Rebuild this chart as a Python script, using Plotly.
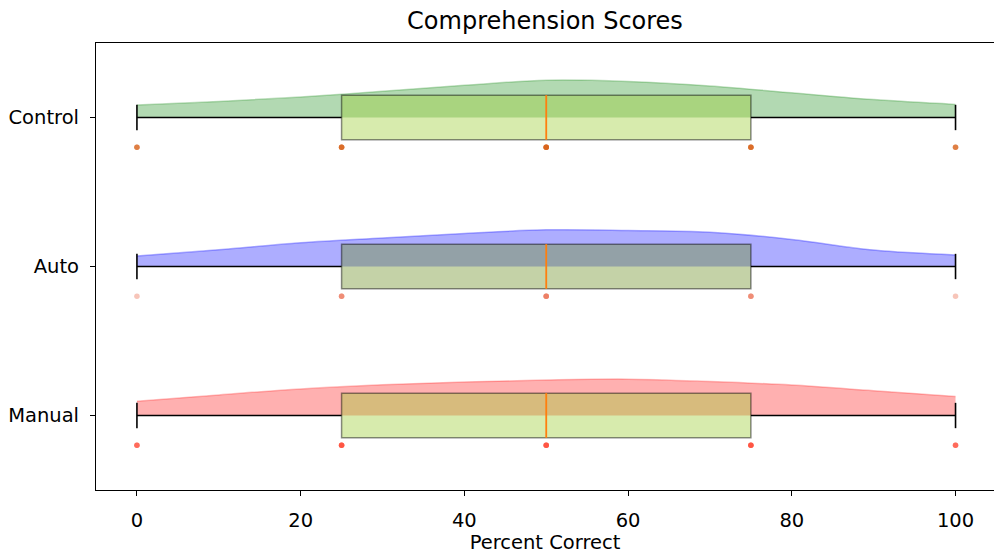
import numpy as np
import plotly.graph_objects as go

# ---------------- data ----------------
groups = ["Manual", "Auto", "Control"]          # bottom -> top
scores = {
    "Control": [0, 0, 25, 25, 25, 50, 50, 50, 50, 75, 75, 75, 100, 100],
    "Auto":    [0, 25, 25, 25, 50, 50, 50, 50, 75, 75, 75, 100],
    "Manual":  [0, 0, 25, 25, 25, 50, 50, 50, 75, 75, 75, 100, 100],
}
kde_x = [0, 10, 20, 30, 40, 50, 60, 70, 80, 90, 100]
kde_density = {
    "Control": [0.0042, 0.0054, 0.0069, 0.0088, 0.0108, 0.0125, 0.0121, 0.0106, 0.0083, 0.0060, 0.0044],
    "Auto":    [0.0035, 0.0056, 0.0080, 0.0096, 0.0111, 0.0123, 0.0121, 0.0115, 0.0091, 0.0055, 0.0039],
    "Manual":  [0.0048, 0.0069, 0.0089, 0.0103, 0.0112, 0.0119, 0.0122, 0.0114, 0.0102, 0.0083, 0.0064],
}
x_ticks = [0, 20, 40, 60, 80, 100]

# ---------------- styles ----------------
violin_fill = {"Control": "rgba(0,128,0,0.30)", "Auto": "rgba(0,0,255,0.32)", "Manual": "rgba(255,0,0,0.31)"}
violin_line = {"Control": "rgba(0,128,0,0.25)", "Auto": "rgba(0,0,255,0.30)", "Manual": "rgba(255,0,0,0.25)"}
box_fill = {"Control": "rgba(154,205,50,0.40)", "Auto": "rgba(107,142,35,0.40)", "Manual": "rgba(154,205,50,0.40)"}
dot_color = {"Control": "rgb(215,95,20)", "Auto": "rgb(235,110,80)", "Manual": "rgb(255,70,50)"}
dot_opacity = {"Control": 0.55, "Auto": 0.40, "Manual": 0.55}
violin_scale = 20.0
box_half = 0.15
cap_half = 0.085
dot_offset = 0.2
FONT = "DejaVu Sans"

fig = go.Figure()
shapes = []

for i, g in enumerate(groups):
    c = i + 1
    s = np.array(scores[g], dtype=float)
    q1, med, q3 = np.percentile(s, [25, 50, 75])
    iqr = q3 - q1
    lo = s[s >= q1 - 1.5 * iqr].min()
    hi = s[s <= q3 + 1.5 * iqr].max()

    # half violin
    fig.add_trace(go.Scatter(x=[kde_x[0], kde_x[-1]], y=[c, c], mode="lines",
                             line=dict(width=0), hoverinfo="skip", showlegend=False))
    fig.add_trace(go.Scatter(x=kde_x, y=[c + violin_scale * d for d in kde_density[g]],
                             mode="lines", line=dict(color=violin_line[g], width=1.5, shape="spline"),
                             fill="tonexty", fillcolor=violin_fill[g], showlegend=False))
    # rain dots
    fig.add_trace(go.Scatter(x=s, y=[c - dot_offset] * len(s), mode="markers",
                             marker=dict(size=5.5, color=dot_color[g], opacity=dot_opacity[g], line=dict(width=0)),
                             showlegend=False))

    # whiskers
    shapes.append(dict(type="line", xref="x", yref="y", x0=lo, x1=q1, y0=c, y1=c,
                       line=dict(color="black", width=1.6)))
    shapes.append(dict(type="line", xref="x", yref="y", x0=q3, x1=hi, y0=c, y1=c,
                       line=dict(color="black", width=1.6)))
    for v in (lo, hi):
        shapes.append(dict(type="line", xref="x", yref="y", x0=v, x1=v, y0=c - cap_half, y1=c + cap_half,
                           line=dict(color="black", width=1.6)))
    # box
    shapes.append(dict(type="rect", xref="x", yref="y", x0=q1, x1=q3, y0=c - box_half, y1=c + box_half,
                       fillcolor=box_fill[g], line=dict(color="rgba(0,0,0,0.45)", width=1.5)))
    # median
    shapes.append(dict(type="line", xref="x", yref="y", x0=med, x1=med, y0=c - box_half, y1=c + box_half,
                       line=dict(color="#ff7f0e", width=1.8)))

W, H = 994, 554
fig.update_layout(
    width=W, height=H,
    margin=dict(l=96, r=0, t=43, b=64),
    plot_bgcolor="white", paper_bgcolor="white",
    showlegend=False,
    font=dict(family=FONT, color="black", size=19.5),
    shapes=shapes,
    title=dict(text="Comprehension Scores", x=0.5, xref="paper", xanchor="center",
               y=1 - 21 / H, yref="container", yanchor="middle",
               font=dict(family=FONT, size=24, color="black")),
)
fig.update_xaxes(range=[-5, 104.7], tickvals=x_ticks, ticktext=[str(v) for v in x_ticks],
                 ticks="outside", ticklen=5, tickwidth=1.2, tickcolor="black",
                 showline=True, linecolor="black", linewidth=1.2, mirror=True,
                 showgrid=False, zeroline=False, tickfont=dict(size=19.5),
                 ticklabelstandoff=7,
                 title=dict(text="Percent Correct", font=dict(size=19.5), standoff=4))
fig.update_yaxes(range=[0.5, 3.5], tickvals=[1, 2, 3], ticktext=groups,
                 ticks="outside", ticklen=5, tickwidth=1.2, tickcolor="black",
                 showline=True, linecolor="black", linewidth=1.2, mirror=False,
                 showgrid=False, zeroline=False, tickfont=dict(size=19.5),
                 ticklabelstandoff=7)

fig.write_html("out.html",
               config={"displayModeBar": False},
               post_script="document.body.style.margin='0';document.body.style.overflow='hidden';")
